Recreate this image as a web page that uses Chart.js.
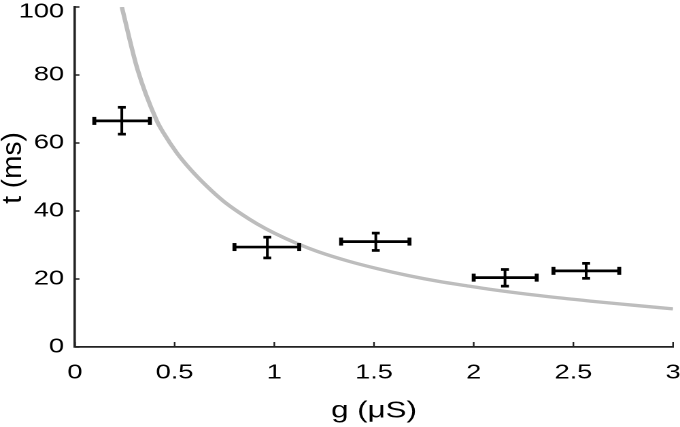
<!DOCTYPE html>
<html>
<head>
<meta charset="utf-8">
<script src="https://cdn.jsdelivr.net/npm/chart.js@4.4.1/dist/chart.umd.min.js"></script>
<style>
  html, body { margin: 0; padding: 0; background: #fff; overflow: hidden; }
  /* the reference text is wide, so the chart is drawn narrow and widened */
  #wrap { position: relative; width: 500px; height: 427px; transform: scaleX(1.36); transform-origin: 0 0; }
</style>
</head>
<body>
<div id="wrap"><canvas id="chart"></canvas></div>
<script>
// fitted curve
const curveG = [0.235, 0.313, 0.41, 0.446, 0.511, 0.58, 0.663, 0.747, 0.83, 0.914, 1.0, 1.116, 1.217, 1.369, 1.52, 1.673, 1.825, 1.977, 2.079, 2.332, 2.585, 2.8, 3.0];
const curveT = [100, 81.8, 66.6, 62.8, 57.1, 52.2, 47.2, 42.8, 39.3, 36.2, 33.5, 30.4, 28.1, 25.3, 23.0, 21.0, 19.3, 17.9, 17.0, 15.1, 13.5, 12.3, 11.2];

// measured points with error bars (g in uS, t in ms)
const pointG = [0.235, 0.965, 1.509, 2.157, 2.564];
const pointT = [66.5, 29.4, 31.0, 20.4, 22.4];
const gLow = [0.097, 0.80, 1.335, 2.0, 2.40];
const gHigh = [0.376, 1.125, 1.678, 2.316, 2.73];
const tLow = [62.6, 26.2, 28.4, 17.9, 20.2];
const tHigh = [70.5, 32.3, 33.5, 22.8, 24.6];

// tick values
const xTicks = [0, 0.5, 1, 1.5, 2, 2.5, 3];
const yTicks = [0, 20, 40, 60, 80, 100];

const STRETCH = 1.36;
const FONT = '"Liberation Sans", Arial, sans-serif';

function seg(ctx, x0, y0, x1, y1) {
    ctx.beginPath();
    ctx.moveTo(x0, y0);
    ctx.lineTo(x1, y1);
    ctx.stroke();
}

// crosses: horizontal bar for g, vertical bar for t, with caps
const errorBars = {
    id: 'errorBars',
    afterDatasetsDraw(chart) {
        const ctx = chart.ctx;
        const x = chart.scales.x;
        const y = chart.scales.y;
        ctx.save();
        ctx.strokeStyle = '#000';
        for (let i = 0; i < pointG.length; i++) {
            const cx = x.getPixelForValue(pointG[i]);
            const cy = y.getPixelForValue(pointT[i]);
            const x0 = x.getPixelForValue(gLow[i]);
            const x1 = x.getPixelForValue(gHigh[i]);
            const y0 = y.getPixelForValue(tLow[i]);
            const y1 = y.getPixelForValue(tHigh[i]);
            ctx.lineWidth = 2.7;
            seg(ctx, x0, cy, x1, cy);
            ctx.lineWidth = 2.0;
            seg(ctx, cx, y0, cx, y1);
            ctx.lineWidth = 2.9;
            seg(ctx, x0, cy - 4, x0, cy + 4);
            seg(ctx, x1, cy - 4, x1, cy + 4);
            ctx.lineWidth = 2.7;
            seg(ctx, cx - 2.9, y0, cx + 2.9, y0);
            seg(ctx, cx - 2.9, y1, cx + 2.9, y1);
        }
        ctx.restore();
    }
};

// tick marks point into the plot, plus the upright y title
const axisExtras = {
    id: 'axisExtras',
    afterDraw(chart) {
        const ctx = chart.ctx;
        const area = chart.chartArea;
        const x = chart.scales.x;
        const y = chart.scales.y;
        ctx.save();
        ctx.strokeStyle = '#222';
        ctx.lineWidth = 1.2;
        x.ticks.forEach(function (t) {
            const px = x.getPixelForValue(t.value);
            seg(ctx, px, area.bottom, px, area.bottom - 5);
        });
        ctx.lineWidth = 1.5;
        y.ticks.forEach(function (t) {
            const py = y.getPixelForValue(t.value);
            seg(ctx, area.left, py, area.left + 3.3, py);
        });
        ctx.restore();

        // y title, undo the sideways stretch so it keeps its own proportions
        ctx.save();
        ctx.translate(9.9, 168);
        ctx.scale(1 / STRETCH, 1);
        ctx.rotate(-Math.PI / 2);
        ctx.fillStyle = '#000';
        ctx.font = '28px ' + FONT;
        ctx.textAlign = 'center';
        ctx.textBaseline = 'middle';
        ctx.fillText('t (ms)', 0, 0);
        ctx.restore();
    }
};

new Chart(document.getElementById('chart'), {
    type: 'scatter',
    data: {
        datasets: [
            {
                label: 'fit',
                data: curveG.map((g, i) => ({ x: g, y: curveT[i] })),
                showLine: true,
                borderColor: '#bdbdbd',
                borderWidth: 3.3,
                pointRadius: 0,
                cubicInterpolationMode: 'monotone'
            },
            {
                label: 'data',
                data: pointG.map((g, i) => ({ x: g, y: pointT[i] })),
                pointRadius: 0
            }
        ]
    },
    options: {
        responsive: true,
        maintainAspectRatio: false,
        animation: false,
        devicePixelRatio: 2,
        layout: { padding: { top: 7, right: 5.1, bottom: 0, left: 0 } },
        plugins: {
            legend: { display: false },
            tooltip: { enabled: false }
        },
        scales: {
            x: {
                type: 'linear',
                min: 0,
                max: 3,
                afterBuildTicks: s => { s.ticks = xTicks.map(v => ({ value: v })); },
                afterFit: s => { s.height = 80; s.paddingLeft = 0; s.paddingRight = 0; },
                ticks: {
                    font: { family: FONT, size: 20 },
                    color: '#000',
                    padding: 14,
                    maxRotation: 0,
                    autoSkip: false,
                    callback: v => String(v)
                },
                grid: { display: false, drawTicks: false },
                border: { display: true, color: '#222', width: 1.8 },
                title: {
                    display: true,
                    text: 'g (μS)',
                    color: '#000',
                    font: { family: FONT, size: 23, lineHeight: 1 },
                    padding: { top: 0, bottom: 4.5 }
                }
            },
            y: {
                type: 'linear',
                min: 0,
                max: 100,
                afterBuildTicks: s => { s.ticks = yTicks.map(v => ({ value: v })); },
                afterFit: s => { s.width = 55.1; s.paddingTop = 0; s.paddingBottom = 0; },
                ticks: {
                    font: { family: FONT, size: 20, lineHeight: 0.5 },
                    color: '#000',
                    padding: 8,
                    // top label sits a little below its tick, as in the reference
                    callback: v => (v === yTicks[yTicks.length - 1] ? ['', String(v)] : String(v))
                },
                grid: { display: false, drawTicks: false },
                border: { display: true, color: '#222', width: 1.8 },
                title: { display: false }
            }
        }
    },
    plugins: [errorBars, axisExtras]
});
</script>
</body>
</html>
